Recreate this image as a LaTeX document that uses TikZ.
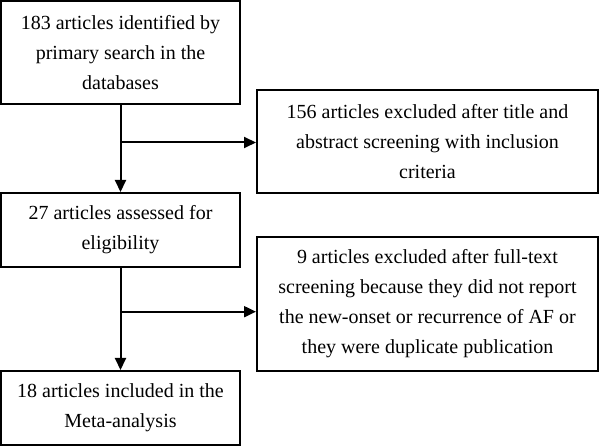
\documentclass[tikz,border=0pt]{standalone}
\usepackage{fontspec}
\setmainfont{Liberation Serif}
\usetikzlibrary{arrows.meta}
\begin{document}
\begin{tikzpicture}[x=1pt,y=-1pt,
  stepbox/.style={draw, line width=2pt, inner sep=0pt, align=center,
    font=\fontsize{20}{30}\selectfont},
  flow/.style={line width=2pt, -{Triangle[length=12pt,width=11pt]}}]
\useasboundingbox (0,0) rectangle (600,446);
\node[stepbox, minimum width=239pt, minimum height=103pt] (b1) at (120.5,52.5)
  {183 articles identified by\\primary search in the\\databases};
\node[stepbox, minimum width=341pt, minimum height=103pt] (b2) at (427.5,141.5)
  {156 articles excluded after title and\\abstract screening with inclusion\\criteria};
\node[stepbox, minimum width=239pt, minimum height=74pt] (b3) at (120.5,230)
  {27 articles assessed for\\eligibility};
\node[stepbox, minimum width=341pt, minimum height=134pt] (b4) at (427.5,304)
  {9 articles excluded after full-text\\screening because they did not report\\the new-onset or recurrence of AF or\\they were duplicate publication};
\node[stepbox, minimum width=239pt, minimum height=74pt] (b5) at (120.5,408)
  {18 articles included in the\\Meta-analysis};
\coordinate (j1) at (120.5,142.5);
\coordinate (j2) at (120.5,311.7);
\draw[flow] (b1.south) -- (b3.north);
\draw[flow] (j1) -- (j1 -| b2.west);
\draw[flow] (b3.south) -- (b5.north);
\draw[flow] (j2) -- (j2 -| b4.west);
\end{tikzpicture}
\end{document}
